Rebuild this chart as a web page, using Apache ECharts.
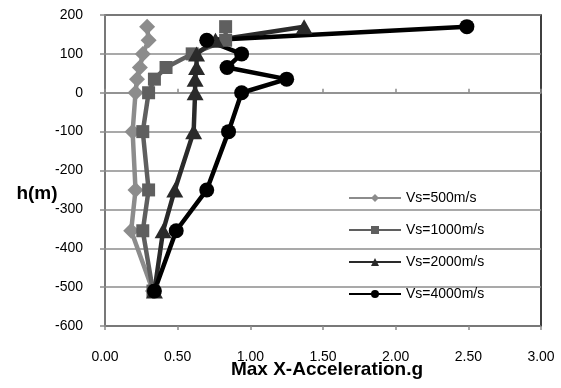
<!DOCTYPE html>
<html>
<head>
<meta charset="utf-8">
<script src="https://cdn.jsdelivr.net/npm/echarts@6/dist/echarts.min.js"></script>
<style>
  html, body { margin: 0; padding: 0; background: #fff; }
  #chart { width: 561px; height: 388px; }
</style>
</head>
<body>
<div id="chart"></div>
<script>
// Heights (m) at which peak horizontal acceleration was recorded
const heights = [170, 135, 100, 65, 35, 0, -100, -250, -355, -510];

// Peak X-acceleration (g) for each shear-wave velocity
const accVs500  = [0.29, 0.30, 0.26, 0.24, 0.22, 0.21, 0.19, 0.21, 0.18, 0.33];
const accVs1000 = [0.83, 0.83, 0.60, 0.42, 0.34, 0.30, 0.26, 0.30, 0.26, 0.33];
const accVs2000 = [1.37, 0.76, 0.63, 0.63, 0.62, 0.62, 0.61, 0.48, 0.40, 0.34];
const accVs4000 = [2.49, 0.70, 0.94, 0.84, 1.25, 0.94, 0.85, 0.70, 0.49, 0.34];

const seriesNames = ['Vs=500m/s', 'Vs=1000m/s', 'Vs=2000m/s', 'Vs=4000m/s'];
const xTicks = [0, 0.5, 1, 1.5, 2, 2.5, 3];
const yTicks = [-600, -500, -400, -300, -200, -100, 0, 100, 200];

const FONT = '"Liberation Sans", Arial, sans-serif';
const GRID_GREY = '#8c8c8c';

function pairs(acc) {
  return acc.map((a, i) => [a, heights[i]]);
}

const styles = [
  { color: '#8c8c8c', symbol: 'diamond',  size: 16 },
  { color: '#5f5f5f', symbol: 'rect',     size: 13 },
  { color: '#2a2a2a', symbol: 'triangle', size: [17, 15] },
  { color: '#000000', symbol: 'circle',   size: 15 }
];
const allData = [accVs500, accVs1000, accVs2000, accVs4000];

const chart = echarts.init(document.getElementById('chart'), null, { renderer: 'canvas' });

chart.setOption({
  animation: false,
  backgroundColor: '#fff',
  textStyle: { fontFamily: FONT },
  title: [
    {
      text: 'Max X-Acceleration.g',
      left: 322, top: 355, textAlign: 'center',
      textStyle: { fontFamily: FONT, fontWeight: 'bold', fontSize: 19, color: '#000' }
    },
    {
      text: 'h(m)',
      left: 32, top: 179, textAlign: 'center',
      textStyle: { fontFamily: FONT, fontWeight: 'bold', fontSize: 19, color: '#000' }
    }
  ],
  grid: {
    left: 105, right: 20, top: 15, bottom: 62,
    containLabel: false,
    outerBoundsMode: 'none',
    show: true, borderColor: '#000', borderWidth: 1.5, backgroundColor: 'transparent'
  },
  legend: {
    orient: 'vertical',
    left: 348, top: 190, padding: 0,
    itemWidth: 52, itemHeight: 10, itemGap: 16,
    textStyle: { fontFamily: FONT, fontSize: 14, color: '#000', lineHeight: 16 },
    data: seriesNames
  },
  xAxis: [
    {
      // tick labels along the bottom edge of the plot
      type: 'value', min: 0, max: 3, interval: 0.5,
      position: 'bottom',
      axisLine: { show: false, onZero: false },
      axisTick: { show: false },
      axisLabel: {
        margin: 24, fontSize: 14, color: '#000', fontFamily: FONT,
        formatter: v => xTicks.includes(v) ? v.toFixed(2) : ''
      },
      splitLine: { show: false }
    },
    {
      // axis line crossing at h = 0 with tick marks
      type: 'value', min: 0, max: 3, interval: 0.5,
      position: 'top',
      axisLine: { onZero: true, lineStyle: { color: GRID_GREY, width: 1.5 } },
      axisTick: { show: true, length: 4, lineStyle: { color: GRID_GREY, width: 1.5 } },
      axisLabel: { show: false },
      splitLine: { show: false }
    },
    {
      type: 'value', min: 0, max: 3, interval: 0.5,
      position: 'bottom',
      axisLine: { show: false, onZero: true },
      axisTick: { show: true, length: 4, lineStyle: { color: GRID_GREY, width: 1.5 } },
      axisLabel: { show: false },
      splitLine: { show: false }
    }
  ],
  yAxis: {
    type: 'value', min: yTicks[0], max: yTicks[yTicks.length - 1], interval: 100,
    axisLine: { show: true, onZero: false, lineStyle: { color: GRID_GREY, width: 1.5 } },
    axisTick: { show: true, length: 5, lineStyle: { color: GRID_GREY, width: 1.5 } },
    axisLabel: { margin: 22, fontSize: 14, color: '#000', fontFamily: FONT },
    splitLine: { show: true, lineStyle: { color: GRID_GREY, width: 1.5 } }
  },
  series: allData.map((acc, i) => ({
    name: seriesNames[i],
    type: 'line',
    xAxisIndex: 0,
    data: pairs(acc),
    symbol: styles[i].symbol,
    symbolSize: styles[i].size,
    showAllSymbol: true,
    lineStyle: { color: styles[i].color, width: 4.5 },
    itemStyle: { color: styles[i].color, borderColor: styles[i].color, borderWidth: 0 }
  }))
});
</script>
</body>
</html>
